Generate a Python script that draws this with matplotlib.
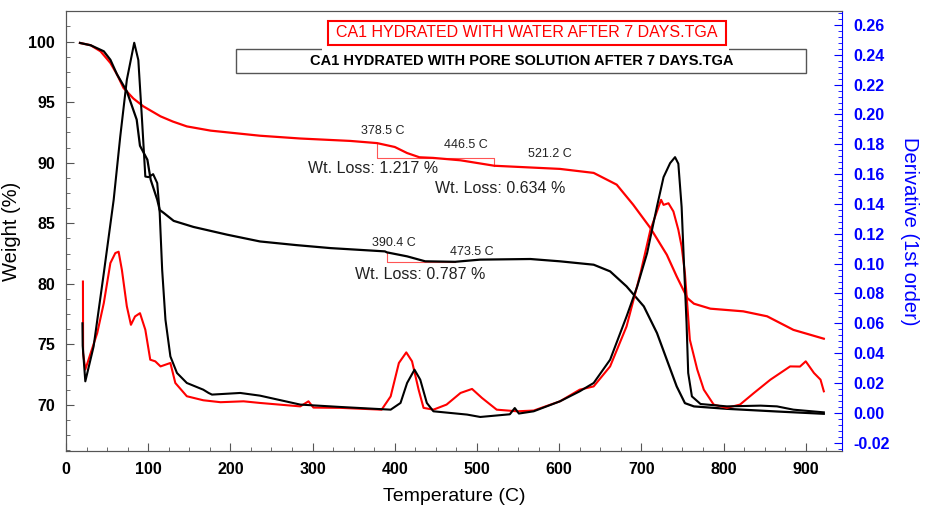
import matplotlib
matplotlib.use("Agg")
import matplotlib.pyplot as plt
from matplotlib.ticker import MultipleLocator, AutoMinorLocator, FormatStrFormatter
from matplotlib.patches import Rectangle

plt.rcParams['font.family'] = ['Liberation Sans', 'DejaVu Sans']

# water sample, weight (%)
t_tga_w = [17, 30, 42, 54, 62, 70, 82, 94, 115, 130, 147, 176, 236, 285, 346, 378.5,
           400, 415, 430, 446.5, 480, 521.2, 601, 642, 670, 690, 711, 731, 743,
           756, 764, 784, 824, 853, 885, 922]
w_tga_w = [99.89, 99.7, 99.2, 98.24, 97.3, 96.17, 95.3, 94.66, 93.83, 93.4, 93.0,
           92.65, 92.23, 92.0, 91.8, 91.62, 91.3, 90.8, 90.45, 90.4, 90.2, 89.75,
           89.49, 89.16, 88.19, 86.54, 84.61, 82.4, 80.61, 78.82, 78.36, 77.95,
           77.73, 77.32, 76.2, 75.47]

# pore solution sample, weight (%)
t_tga_p = [17, 30, 46, 54, 62, 74, 86, 90, 99, 103, 111, 114, 119, 131, 155, 196,
           236, 280, 322, 388, 390.4, 415, 437, 473.5, 504, 565, 601, 642, 662, 682,
           703, 719, 731, 743, 753, 764, 804, 865, 922]
w_tga_p = [99.89, 99.7, 99.2, 98.5, 97.3, 95.9, 93.56, 91.4, 90.25, 88.6, 86.95,
           86.1, 85.85, 85.2, 84.7, 84.06, 83.5, 83.2, 82.95, 82.68, 82.6, 82.27,
           81.86, 81.82, 82.0, 82.05, 81.86, 81.58, 81.03, 79.79, 78.14, 75.94,
           73.73, 71.53, 70.15, 69.88, 69.68, 69.46, 69.27]

# derivative, water sample
t_dtg_w = [20.6, 20.8, 23.5, 38, 46, 54, 60, 64, 68, 74, 79, 84, 90, 96.5, 102.5,
           108.6, 115, 127, 133, 147, 167, 188, 216, 236, 285, 295, 301, 334, 384,
           395, 405, 414, 421, 429, 435, 447, 463, 480, 494, 506, 524, 549, 569,
           601, 625, 642, 662, 682, 699, 711, 724, 727, 733, 739, 745, 749, 753,
           759, 768, 776, 788, 804, 820, 837, 857, 881, 893, 900, 910, 918, 922]
d_dtg_w = [0.088, 0.040, 0.029, 0.0535, 0.0736, 0.1004, 0.1071, 0.108, 0.0958,
           0.0714, 0.059, 0.0646, 0.0668, 0.0557, 0.0356, 0.0345, 0.0311, 0.0334,
           0.020, 0.0111, 0.0084, 0.0071, 0.0077, 0.0066, 0.0043, 0.0077, 0.0035,
           0.0033, 0.0021, 0.011, 0.0334, 0.0405, 0.0345, 0.0155, 0.0033, 0.0021,
           0.0055, 0.0133, 0.016, 0.010, 0.0021, 0.001, 0.0015, 0.0077, 0.0155,
           0.0177, 0.0311, 0.0579, 0.0937, 0.1226, 0.1428, 0.1394, 0.1405, 0.135,
           0.1227, 0.1115, 0.0937, 0.049, 0.029, 0.0155, 0.0055, 0.0033, 0.0055,
           0.0133, 0.0222, 0.0311, 0.031, 0.0345, 0.0267, 0.0222, 0.0144]

# derivative, pore solution sample
t_dtg_p = [20, 20.3, 23.5, 33.6, 46, 58, 66, 74, 83, 88, 92.5, 96.5, 100.5, 106,
           111, 114, 117, 121, 127, 135, 147, 167, 173.5, 177.6, 212, 236, 285,
           334, 395, 407, 415, 424, 431, 439, 447, 488, 504, 540, 546, 551, 569,
           601, 625, 642, 662, 682, 695, 707, 719, 727, 735, 741, 745, 749, 752,
           755, 757, 761.5, 772, 804, 845, 865, 885, 922]
d_dtg_p = [0.060, 0.045, 0.0211, 0.0445, 0.0937, 0.1428, 0.1852, 0.2232, 0.2481,
           0.2365, 0.1963, 0.1584, 0.158, 0.160, 0.154, 0.134, 0.0958, 0.0624,
           0.0378, 0.0267, 0.020, 0.0155, 0.0133, 0.0122, 0.0133, 0.0115, 0.0055,
           0.0039, 0.0021, 0.0066, 0.020, 0.0289, 0.0222, 0.0066, 0.001, -0.0012,
           -0.0028, -0.001, 0.0032, -0.0005, 0.001, 0.0077, 0.0144, 0.020, 0.0356,
           0.0646, 0.0847, 0.107, 0.1383, 0.158, 0.1674, 0.1714, 0.167, 0.138,
           0.098, 0.060, 0.0267, 0.011, 0.0059, 0.0043, 0.0048, 0.0043, 0.0021,
           0.0003]

# step analysis: start temp, end temp, weights
step_t = [378.5, 446.5, 521.2]
step_w = [91.63, 90.40, 89.75]
step_tp = [390.4, 473.5]
step_wp = [82.6, 81.82]
loss_labels = ["Wt. Loss: 1.217 %", "Wt. Loss: 0.634 %", "Wt. Loss: 0.787 %"]

fig = plt.figure(figsize=(9.27, 5.13), dpi=100)
ax = fig.add_axes([0.0712, 0.1209, 0.837, 0.8577])
ax2 = ax.twinx()

ax.plot(t_tga_w, w_tga_w, color='red', lw=1.6, zorder=3)
ax.plot(t_tga_p, w_tga_p, color='black', lw=1.6, zorder=3)
ax2.plot(t_dtg_w, d_dtg_w, color='red', lw=1.5)
ax2.plot(t_dtg_p, d_dtg_p, color='black', lw=1.5)

# step brackets
bc = '#ff5555'
ax.plot([step_t[0], step_t[0], step_t[1]], [step_w[0], step_w[1], step_w[1]], color=bc, lw=0.8)
ax.plot([step_t[1], step_t[2], step_t[2]], [step_w[1], step_w[1], step_w[2]], color=bc, lw=0.8)
ax.plot([step_tp[0], step_tp[0], step_tp[1]], [step_wp[0], step_wp[1], step_wp[1]], color=bc, lw=0.8)

small = dict(fontsize=9, ha='center', va='center', color='#222222')
ax.text(385, 92.65, "%.1f C" % step_t[0], **small)
ax.text(487, 91.45, "%.1f C" % step_t[1], **small)
ax.text(589, 90.7, "%.1f C" % step_t[2], **small)
ax.text(399, 83.4, "%.1f C" % step_tp[0], **small)
ax.text(494, 82.6, "%.1f C" % step_tp[1], **small)
big = dict(fontsize=11.5, ha='center', va='center', color='#222222')
ax.text(373, 89.55, loss_labels[0], **big)
ax.text(528, 87.9, loss_labels[1], **big)
ax.text(431, 80.8, loss_labels[2], **big)

ax.set_xlim(0, 944)
ax.set_ylim(66.2, 102.53)
ax2.set_ylim(-0.0256, 0.2694)

ax.xaxis.set_major_locator(MultipleLocator(100))
ax.xaxis.set_minor_locator(AutoMinorLocator(4))
ax.yaxis.set_major_locator(MultipleLocator(5))
ax.yaxis.set_minor_locator(AutoMinorLocator(4))
ax2.yaxis.set_major_locator(MultipleLocator(0.02))
ax2.yaxis.set_minor_locator(AutoMinorLocator(5))
ax2.yaxis.set_major_formatter(FormatStrFormatter('%.2f'))

gray = '#555555'
for s in ['left', 'top', 'bottom']:
    ax.spines[s].set_color(gray)
    ax2.spines[s].set_color(gray)
ax2.spines['right'].set_color('blue')
ax.spines['right'].set_visible(False)

ax.tick_params(axis='both', which='both', direction='in', color=gray, top=False, right=False)
ax.tick_params(which='major', length=6, labelsize=11.5, pad=8)
ax.tick_params(which='minor', length=3)
ax2.tick_params(axis='y', which='both', direction='in', color='blue', labelcolor='blue')
ax2.tick_params(which='major', length=6, labelsize=11.5, pad=8)
ax2.tick_params(which='minor', length=3)
for lab in ax.get_xticklabels() + ax.get_yticklabels() + ax2.get_yticklabels():
    lab.set_fontweight('bold')

ax.set_xlabel("Temperature (C)", fontsize=14, labelpad=8)
ax.set_ylabel("Weight (%)", fontsize=14.5)
ax.yaxis.set_label_coords(-0.058, 0.5)
ax2.set_ylabel("Derivative (1st order)", fontsize=14.5, color='blue', rotation=-90)
ax2.yaxis.set_label_coords(1.1, 0.5)

# legend boxes
ax.add_patch(Rectangle((0.2197, 0.858), 0.734, 0.0567, transform=ax.transAxes,
                       fill=False, edgecolor=gray, lw=1, zorder=5))
ax.add_patch(Rectangle((0.338, 0.9225), 0.5125, 0.054, transform=ax.transAxes,
                       facecolor='white', edgecolor='red', lw=1.5, zorder=6))
ax.add_patch(Rectangle((0.33, 0.9045), 0.525, 0.016, transform=ax.transAxes,
                       facecolor='white', edgecolor='none', zorder=5.5))
ax.text(0.594, 0.950, "CA1 HYDRATED WITH WATER AFTER 7 DAYS.TGA", transform=ax.transAxes,
        color='red', fontsize=11.5, ha='center', va='center', zorder=7)
ax.text(0.587, 0.887, "CA1 HYDRATED WITH PORE SOLUTION AFTER 7 DAYS.TGA", transform=ax.transAxes,
        color='black', fontsize=10.5, fontweight='bold', ha='center', va='center', zorder=7)

fig.savefig("out.png", dpi=100)
